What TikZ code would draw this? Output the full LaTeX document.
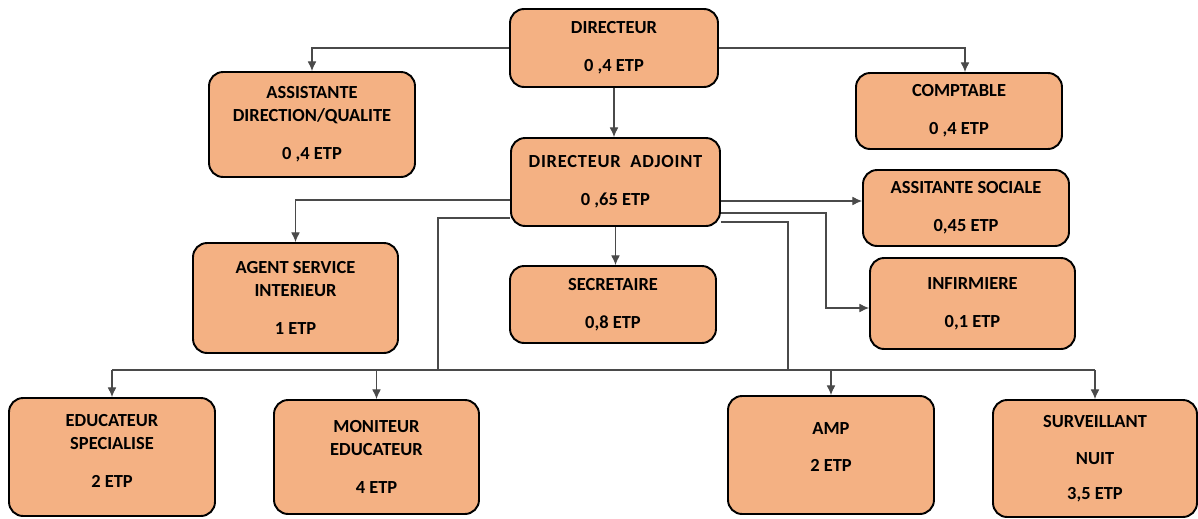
\documentclass[tikz,border=0pt]{standalone}
\usepackage{fontspec}
\setmainfont{Carlito}
\usepackage{tikz}
\usetikzlibrary{arrows.meta}
\definecolor{boxorange}{HTML}{F4B183}
\definecolor{linkgray}{HTML}{4A4A4A}
\tikzset{%
  unit box/.style={
    draw=black,
    line width=1.1pt,
    fill=boxorange,
    rounded corners=8pt,
    align=center,
    inner sep=0pt,
    font=\bfseries\fontsize{10.5}{13}\selectfont
  },
  link/.style={
    draw=linkgray,
    line width=0.6pt
  },
}
\newcommand{\gap}{\\[8.5pt]}

\begin{document}
\begin{tikzpicture}[> = {Latex[length=5.5pt,width=5pt]}, x=0.02cm, y=-0.02cm]
\useasboundingbox (0,0) rectangle (1198,518);
% boxes
\node[unit box, minimum width=4.16cm, minimum height=1.56cm] (dir) at (614,48) {DIRECTEUR\gap 0 ,4 ETP};
\node[unit box, minimum width=4.12cm, minimum height=2.10cm] (assist) at (312,124.5) {ASSISTANTE\\DIRECTION/QUALITE\gap 0 ,4 ETP};
\node[unit box, minimum width=4.12cm, minimum height=1.52cm] (compta) at (959,111) {COMPTABLE\gap 0 ,4 ETP};
\node[unit box, minimum width=4.18cm, minimum height=1.76cm] (adj) at (615.5,182) {{\addfontfeature{LetterSpace=4}DIRECTEUR~~ADJOINT}\gap 0 ,65 ETP};
\node[unit box, minimum width=4.12cm, minimum height=1.52cm] (social) at (966,208) {ASSITANTE SOCIALE\gap 0,45 ETP};
\node[unit box, minimum width=4.10cm, minimum height=1.82cm] (infirm) at (972.5,303.5) {INFIRMIERE\gap 0,1 ETP};
\node[unit box, minimum width=4.10cm, minimum height=2.20cm] (agent) at (295.5,298) {AGENT SERVICE\\INTERIEUR\gap 1 ETP};
\node[unit box, minimum width=4.12cm, minimum height=1.54cm] (secret) at (613,304.5) {SECRETAIRE\gap 0,8 ETP};
\node[unit box, minimum width=4.12cm, minimum height=2.36cm] (educ) at (112,457) {EDUCATEUR\\SPECIALISE\gap 2 ETP\\[-6pt]\mbox{}};
\node[unit box, minimum width=4.10cm, minimum height=2.28cm] (monit) at (376.5,457) {MONITEUR\\EDUCATEUR\gap 4 ETP};
\node[unit box, minimum width=4.12cm, minimum height=2.36cm] (amp) at (831,455) {AMP\gap 2 ETP\\[-4pt]\mbox{}};
\node[unit box, minimum width=4.08cm, minimum height=2.34cm] (surv) at (1095,458.5) {SURVEILLANT\\[8pt]NUIT\\[7pt]3,5 ETP};

% bends and bus
\coordinate (busL) at (438,370);
\coordinate (busR) at (788,370);
\coordinate (infbend) at (826,308);
\coordinate (s1) at ([yshift=-0.38cm]adj.east);

% links from the director
\draw[link,->] (dir.west) -| (assist.north);
\draw[link,->] (dir.east) -| ([xshift=0.12cm]compta.north);
\draw[link,->] (dir.south) -- (dir.south |- adj.north);

% links from the deputy
\draw[link,->] ([yshift=-0.36cm]adj.west) -| (agent.north);
\draw[link,->] (adj.south) -- (adj.south |- secret.north);
\draw[link,->] (s1) -- (s1 -| social.west);
\draw[link,->] ([yshift=-0.62cm]adj.east) -| (infbend) -- (infbend -| infirm.west);
\draw[link] ([yshift=-0.72cm]adj.west) -| (busL);
\draw[link] ([yshift=-0.80cm]adj.east) -| (busR);
\draw[link] (educ.north |- busL) -- (surv.north |- busL);
\foreach \n in {educ,monit,amp,surv}
    \draw[link,->] (\n.north |- busL) -- (\n.north);
\end{tikzpicture}
\end{document}
